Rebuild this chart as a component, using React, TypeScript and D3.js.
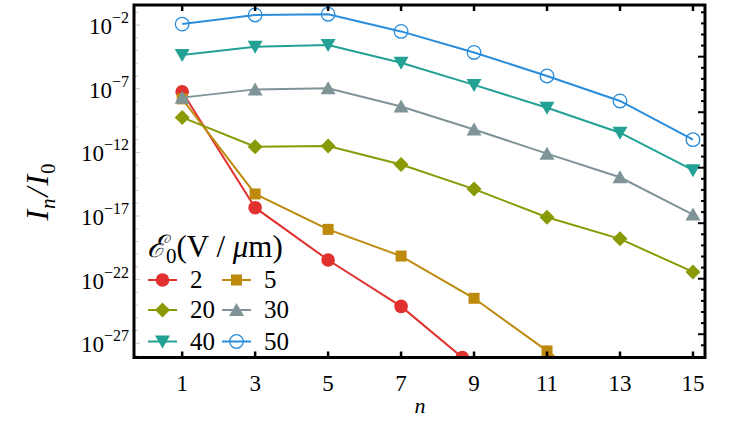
import React from 'react';
import * as d3 from 'd3';

// harmonic order n
const orders = [1, 3, 5, 7, 9, 11, 13, 15];

// I_n / I_0 for each field strength E0 (V/um)
const field2 = [5.8e-8, 4.5e-17, 3.5e-21, 7.9e-25, 1.3e-29];
const field5 = [1.6e-8, 5.4e-16, 8.9e-19, 7.1e-21, 3.4e-24, 2.5e-28, 1e-32];
const field20 = [5.6e-10, 2.8e-12, 3.2e-12, 1.1e-13, 1.3e-15, 7.9e-18, 1.6e-19, 4.0e-22];
const field30 = [2.0e-8, 8.9e-8, 1.1e-7, 4.0e-9, 6.3e-11, 7.9e-13, 1.1e-14, 1.3e-17];
const field40 = [4.4e-5, 2.0e-4, 2.7e-4, 1.1e-5, 2.0e-7, 3.2e-9, 3.5e-11, 4.0e-14];
const field50 = [1.2e-2, 6.3e-2, 7.2e-2, 3.2e-3, 7.1e-5, 1.0e-6, 1.1e-8, 1.0e-11];

const yTickExps = [-2, -7, -12, -17, -22, -27];

type Marker = 'circle' | 'square' | 'diamond' | 'triUp' | 'triDown' | 'ring';

const series: { label: string; values: number[]; color: string; marker: Marker }[] = [
  { label: '2', values: field2, color: '#e1312e', marker: 'circle' },
  { label: '5', values: field5, color: '#be8a0e', marker: 'square' },
  { label: '20', values: field20, color: '#8a9a06', marker: 'diamond' },
  { label: '30', values: field30, color: '#7e9497', marker: 'triUp' },
  { label: '40', values: field40, color: '#22a194', marker: 'triDown' },
  { label: '50', values: field50, color: '#2a8ddc', marker: 'ring' },
];

const W = 750;
const H = 421;
const left = 134, right = 705, top = 5, bottom = 357.5;
const serif: React.CSSProperties = { fontFamily: "'Liberation Serif', 'DejaVu Serif', serif" };

const x = d3.scaleLinear().domain([-0.32, 15.33]).range([left, right]);
const y = d3.scaleLog().domain([Math.pow(10, -0.42), Math.pow(10, -28.12)]).range([top, bottom]);

function MarkerShape({ kind, cx, cy, color }: { kind: Marker; cx: number; cy: number; color: string }) {
  switch (kind) {
    case 'circle':
      return <circle cx={cx} cy={cy} r={6.8} fill={color} />;
    case 'ring':
      return <circle cx={cx} cy={cy} r={6.8} fill="none" stroke={color} strokeWidth={1.3} />;
    case 'square':
      return <rect x={cx - 5.5} y={cy - 5.5} width={11} height={11} fill={color} />;
    case 'diamond':
      return <path d={`M${cx},${cy - 7.5}L${cx + 7.5},${cy}L${cx},${cy + 7.5}L${cx - 7.5},${cy}Z`} fill={color} />;
    case 'triUp':
      return <path d={`M${cx},${cy - 7}L${cx + 7.5},${cy + 6}L${cx - 7.5},${cy + 6}Z`} fill={color} />;
    case 'triDown':
      return <path d={`M${cx},${cy + 7}L${cx + 7.5},${cy - 6}L${cx - 7.5},${cy - 6}Z`} fill={color} />;
  }
}

export default function App() {
  const line = d3
    .line<number>()
    .x((_, i) => x(orders[i]))
    .y((d) => y(d));

  // red curve leaves the range between n=7 and n=9: mark where it crosses the bottom edge
  const ly7 = y(field2[3]), ly9 = y(field2[4]);
  const t = (bottom - ly7) / (ly9 - ly7);
  const crossX = x(orders[3]) + t * (x(orders[4]) - x(orders[3]));

  const leftTicks = d3.range(-1, -29, -1);
  const rightTicks = d3.range(0, 31).map((i) => 12.3 + i * 11.1);

  const legendRows = [280, 310, 341.5];
  const legendCols = [148, 222];

  return (
    <svg width={W} height={H} style={{ position: 'absolute', left: 0, top: 0 }}>
      <defs>
        <clipPath id="plot-area">
          <rect x={left} y={top} width={right - left} height={bottom - top} />
        </clipPath>
      </defs>
      <rect width={W} height={H} fill="#fff" />

      <g clipPath="url(#plot-area)">
        {series.map((s) => (
          <g key={s.label}>
            <path d={line(s.values) || ''} fill="none" stroke={s.color} strokeWidth={2} />
            {s.values.map((v, i) => (
              <MarkerShape key={i} kind={s.marker} cx={x(orders[i])} cy={y(v)} color={s.color} />
            ))}
            {s.label === '2' && <MarkerShape kind="circle" cx={crossX} cy={bottom} color={s.color} />}
          </g>
        ))}
      </g>

      {/* left ticks, one per decade */}
      {leftTicks.map((e) => (
        <line key={e} x1={left} x2={left + (e % 5 === -2 ? 6 : 4)} y1={y(Math.pow(10, e))} y2={y(Math.pow(10, e))} stroke="#c8c8c8" strokeWidth={1} />
      ))}
      {/* right ticks */}
      {rightTicks.map((ty, i) => (
        <line key={i} x1={right} x2={right - (i % 5 === 4 ? 7 : 4)} y1={ty} y2={ty} stroke="#000" strokeWidth={2} />
      ))}
      {/* top and bottom ticks */}
      {orders.map((n) => (
        <g key={n}>
          <line x1={x(n)} x2={x(n)} y1={top} y2={top + 6} stroke="#000" strokeWidth={2.5} />
          <line x1={x(n)} x2={x(n)} y1={bottom} y2={bottom - 6} stroke="#000" strokeWidth={2.5} />
          <text x={x(n)} y={391} textAnchor="middle" style={serif} fontSize={23}>
            {n}
          </text>
        </g>
      ))}

      <rect x={left} y={top} width={right - left} height={bottom - top} fill="none" stroke="#000" strokeWidth={3} />

      {yTickExps.map((e) => (
        <text key={e} x={129} y={y(Math.pow(10, e)) + 9} textAnchor="end" style={serif} fontSize={23}>
          10
          <tspan fontSize={16} dy={-11}>
            {'\u2212' + Math.abs(e)}
          </tspan>
        </text>
      ))}

      <text x={420} y={413} textAnchor="middle" style={serif} fontSize={22} fontStyle="italic">
        n
      </text>

      <text transform="translate(48,192) rotate(-90)" textAnchor="middle" style={serif} fontSize={32} fontStyle="italic">
        I<tspan fontSize={21} dx={1} dy={7}>n</tspan>
        <tspan dx={2} dy={-7}>/</tspan>
        <tspan dx={2}>I</tspan>
        <tspan fontSize={21} fontStyle="normal" dx={1} dy={7}>0</tspan>
      </text>

      {/* legend */}
      <text x={147} y={257} style={serif} fontSize={31}>
        <tspan fontStyle="italic">{'\u2130'}</tspan>
        <tspan fontSize={21} dy={6}>0</tspan>
        <tspan dy={-6}>(V / </tspan>
        <tspan fontStyle="italic">{'\u03bc'}</tspan>
        <tspan>m)</tspan>
      </text>
      {series.map((s, i) => {
        const lx = legendCols[i % 2];
        const ly = legendRows[Math.floor(i / 2)];
        return (
          <g key={s.label}>
            <line x1={lx} x2={lx + 29} y1={ly} y2={ly} stroke={s.color} strokeWidth={2} />
            <MarkerShape kind={s.marker} cx={lx + 14.5} cy={ly} color={s.color} />
            <text x={lx + 42} y={ly + 8} style={serif} fontSize={25}>
              {s.label}
            </text>
          </g>
        );
      })}
    </svg>
  );
}
